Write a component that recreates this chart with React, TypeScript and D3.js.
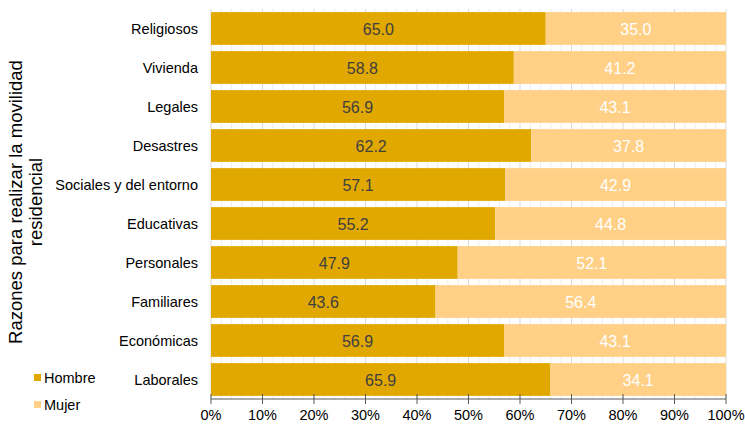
import React from "react";
import * as d3 from "d3";

const categories = ["Religiosos", "Vivienda", "Legales", "Desastres", "Sociales y del entorno", "Educativas", "Personales", "Familiares", "Económicas", "Laborales"];
const hombre = [65.0, 58.8, 56.9, 62.2, 57.1, 55.2, 47.9, 43.6, 56.9, 65.9];
const mujer = [35.0, 41.2, 43.1, 37.8, 42.9, 44.8, 52.1, 56.4, 43.1, 34.1];
const xTicks = [0, 10, 20, 30, 40, 50, 60, 70, 80, 90, 100];
const minorTicks = d3.range(0, 101, 2);

const W = 745, H = 428;
const left = 211, right = 726, top = 9, bottom = 399;
const C_H = "#E1A800";
const C_M = "#FFD086";
const FONT = "'Liberation Sans', Arial, Helvetica, sans-serif";

export default function App() {
  const x = d3.scaleLinear().domain([0, 100]).range([left, right]);
  const y = d3.scaleBand<string>().domain(categories).range([top, bottom]).paddingInner(0.16).paddingOuter(0.08);
  return (
    <svg width={W} height={H} style={{ position: "absolute", left: 0, top: 0, fontFamily: FONT }}>
      <rect width={W} height={H} fill="#fff" />
      {minorTicks.map((t) => (
        <line key={"m" + t} x1={x(t)} x2={x(t)} y1={top} y2={bottom} stroke={t % 10 === 0 ? "#d9d9d9" : "#ededed"} strokeWidth={1} />
      ))}
      {categories.map((c, i) => {
        const y0 = y(c)!;
        const bh = y.bandwidth();
        const cy = y0 + bh / 2;
        return (
          <g key={c}>
            <rect x={x(0)} y={y0} width={x(hombre[i]) - x(0)} height={bh} fill={C_H} />
            <rect x={x(hombre[i])} y={y0} width={x(hombre[i] + mujer[i]) - x(hombre[i])} height={bh} fill={C_M} />
            <text x={(x(0) + x(hombre[i])) / 2} y={cy + 1} dy="0.36em" textAnchor="middle" fontSize={16} fill="#404040">{hombre[i].toFixed(1)}</text>
            <text x={(x(hombre[i]) + x(100)) / 2} y={cy + 1} dy="0.36em" textAnchor="middle" fontSize={16} fill="#ffffff">{mujer[i].toFixed(1)}</text>
            <text x={198} y={cy} dy="0.36em" textAnchor="end" fontSize={14.5} fill="#000">{c}</text>
          </g>
        );
      })}
      <line x1={x(0)} x2={x(100)} y1={bottom} y2={bottom} stroke="#595959" strokeWidth={1} />
      {xTicks.map((t) => (
        <g key={t}>
          <line x1={x(t)} x2={x(t)} y1={bottom - 5} y2={bottom + 5} stroke="#595959" strokeWidth={1} />
          <text x={x(t)} y={420} textAnchor="middle" fontSize={14.5} fill="#000">{t}%</text>
        </g>
      ))}
      <g transform="translate(0,202) rotate(-90)">
        <text x={0} y={22} textAnchor="middle" fontSize={18.5} fill="#000">Razones para realizar la movilidad</text>
        <text x={0} y={42} textAnchor="middle" fontSize={18.5} fill="#000">residencial</text>
      </g>
      <rect x={34} y={374} width={7} height={7} fill={C_H} />
      <text x={44} y={378} dy="0.36em" fontSize={14.5} fill="#000">Hombre</text>
      <rect x={34} y={401} width={7} height={7} fill={C_M} />
      <text x={44} y={405} dy="0.36em" fontSize={14.5} fill="#000">Mujer</text>
    </svg>
  );
}
